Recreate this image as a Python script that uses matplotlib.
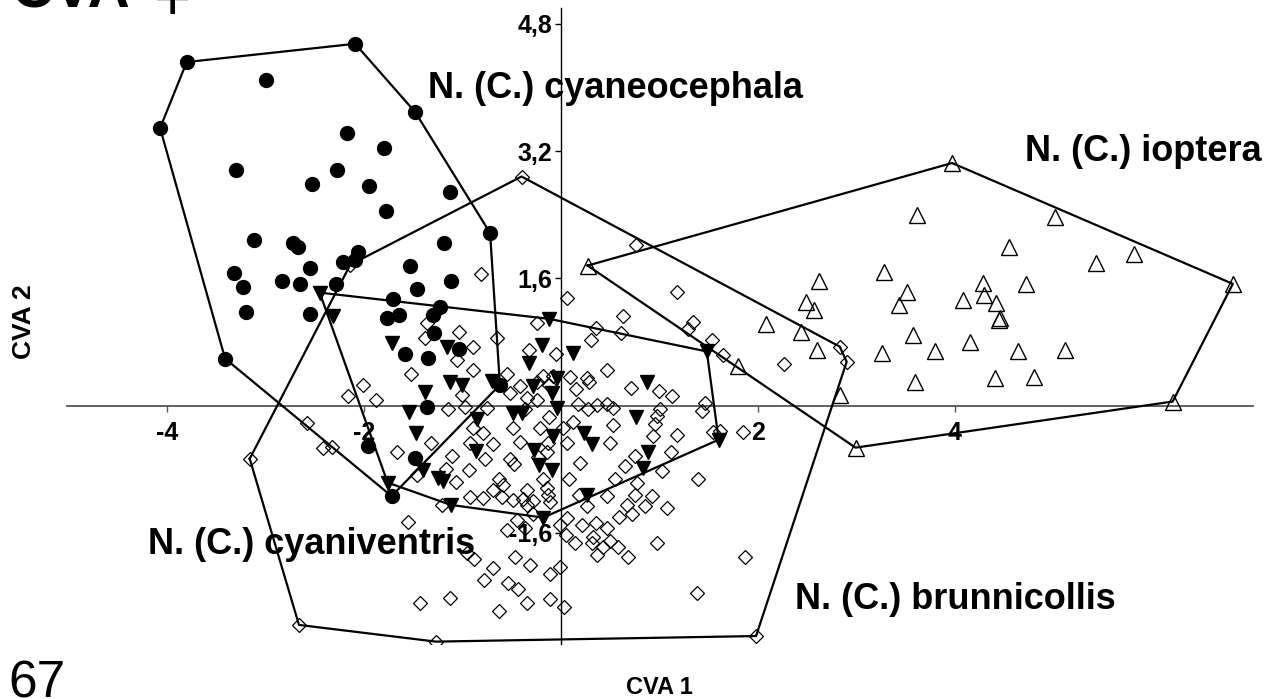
import numpy as np
import matplotlib
matplotlib.use("Agg")
import matplotlib.pyplot as plt

plt.rcParams['font.family'] = ['Liberation Sans', 'DejaVu Sans']

# N. (C.) cyaneocephala - filled circles
cyaneo_x = [-3.80, -2.09, -1.48, -0.72, -0.62, -1.72, -3.41, -4.07,
            -2.99, -2.17, -1.80, -3.30, -2.27, -2.53, -1.95, -1.78,
            -1.13, -1.19, -3.12, -2.72, -2.67, -2.06, -2.21, -2.09,
            -3.32, -3.23, -2.55, -2.83, -2.65, -2.28, -1.53, -1.46,
            -3.20, -2.55, -1.71, -1.77, -1.64, -1.12, -1.23, -1.30,
            -1.29, -1.04, -1.58, -1.35, -1.36, -1.96, -1.48]
cyaneo_y = [4.32, 4.55, 3.69, 2.17, 0.26, -1.14, 0.59, 3.49,
            4.10, 3.43, 3.24, 2.96, 2.96, 2.79, 2.76, 2.45,
            2.69, 2.05, 2.08, 2.05, 2.00, 1.93, 1.81, 1.83,
            1.67, 1.49, 1.73, 1.56, 1.53, 1.53, 1.76, 1.46,
            1.18, 1.15, 1.34, 1.10, 1.14, 1.56, 1.24, 1.14,
            0.91, 0.71, 0.65, 0.60, -0.02, -0.51, -0.66]

# N. (C.) cyaniventris - filled down triangles
cyaniv_x = [-2.45, -2.31, -1.72, -1.16, -1.01, -1.13, -1.38, -0.70,
            -1.54, -1.47, -0.85, -0.86, -1.40, -1.25, -1.20, -1.76,
            -1.12, -0.18, -0.12, -0.19, -0.32, 0.12, -0.04, -0.28,
            -0.09, -0.04, -0.49, -0.40, 0.87, 0.76, 0.23, 0.31,
            -0.08, -0.27, -0.22, -0.09, 0.88, 0.83, 0.26, 1.48,
            1.60]
cyaniv_y = [1.42, 1.12, 0.78, 0.73, 0.26, 0.29, 0.17, 0.31,
            -0.08, -0.34, -0.17, -0.57, -0.81, -0.91, -0.95, -0.97,
            -1.25, -1.41, 1.09, 0.76, 0.54, 0.66, 0.35, 0.24,
            0.16, -0.03, -0.09, -0.09, 0.29, -0.15, -0.34, -0.49,
            -0.38, -0.56, -0.75, -0.81, -0.59, -0.78, -1.12, 0.68,
            -0.43]

# N. (C.) ioptera - open up triangles
iopt_x = [0.27, 3.97, 6.82, 6.21, 2.99, 3.61, 5.01, 4.55,
          5.43, 5.82, 3.28, 4.28, 4.72, 3.51, 4.08, 4.29,
          4.42, 3.43, 4.46, 4.45, 2.62, 2.49, 2.57, 2.08,
          2.44, 2.60, 3.26, 3.57, 3.80, 4.15, 4.64, 5.12,
          4.41, 4.80, 3.59, 2.83, 1.80]
iopt_y = [1.76, 3.05, 1.53, 0.05, -0.53, 2.40, 2.37, 2.00,
          1.79, 1.90, 1.68, 1.54, 1.53, 1.43, 1.33, 1.39,
          1.29, 1.27, 1.10, 1.07, 1.56, 1.30, 1.20, 1.03,
          0.93, 0.70, 0.66, 0.89, 0.68, 0.80, 0.68, 0.70,
          0.35, 0.36, 0.29, 0.13, 0.50]

# N. (C.) brunnicollis - open diamonds
brunn_x = [-0.40, -2.14, -0.81, 0.06, 0.76, 1.18, 0.63, -0.24,
           0.36, 0.61, 0.30, -0.05, -0.32, 1.34, 1.29, 1.53,
           1.64, 2.26, 2.83, 2.90, 0.47, 0.09, 0.26, 0.28,
           0.15, 0.71, 0.99, 1.13, -0.18, -0.08, -0.42, -0.12,
           -0.35, -1.36, -1.04, -1.38, -0.89, -1.06, -0.89, -1.52,
           -0.55, -0.65, -0.24, -2.01, -2.16, -1.88, -0.52, -1.01,
           -0.24, 0.17, 0.27, 0.37, 0.47, 0.53, 1.01, 0.97,
           1.46, 1.43, -1.15, -0.97, -0.75, -0.37, -2.58, -0.12,
           0.12, 0.02, 0.53, 0.95, -2.42, -2.32, -3.16, 0.50,
           0.93, 1.18, 1.12, 1.54, 1.61, 1.85, -0.79, -0.69,
           -0.92, -1.32, -1.66, -1.11, -0.77, -0.89, -0.49, -0.42,
           -0.21, -0.52, -0.48, 0.06, -0.14, -0.23, -0.13, 0.65,
           0.75, 0.55, 0.19, -1.17, -0.93, -1.07, -1.46, -0.92,
           -1.21, -0.79, -0.63, -0.59, -0.69, -0.60, -0.49, -0.39,
           -0.28, -0.35, -0.35, -0.18, -0.14, -0.13, -0.11, 0.08,
           0.18, 0.26, 0.47, 0.77, 0.67, 0.75, 0.92, 0.85,
           0.72, 0.59, 0.47, 0.36, 0.21, 0.06, -0.01, 0.05,
           0.14, 0.31, 0.37, 0.43, 0.50, 0.58, 0.68, 0.97,
           1.08, 1.03, 1.39, 1.87, 1.38, 1.98, -0.01, -0.11,
           -0.11, 0.03, -1.55, -0.95, -0.88, -0.69, -0.78, -0.54,
           -0.44, -0.63, -1.13, -1.43, -0.47, -0.55, -0.31, -0.35,
           -0.28, -0.45, -0.37, 0.32, -2.66, -1.27]
brunn_y = [2.88, 1.77, 1.66, 1.35, 2.02, 1.43, 1.12, 1.04,
           0.98, 0.91, 0.83, 0.65, 0.70, 1.05, 0.96, 0.83,
           0.64, 0.52, 0.74, 0.55, 0.45, 0.36, 0.35, 0.30,
           0.21, 0.22, 0.18, 0.12, 0.37, 0.37, 0.25, 0.26,
           0.10, 1.04, 0.93, 0.85, 0.73, 0.57, 0.45, 0.40,
           0.39, 0.85, 0.29, 0.26, 0.12, 0.07, 0.16, 0.13,
           0.07, 0.02, -0.04, 0.01, 0.02, -0.03, -0.05, -0.13,
           0.03, -0.07, -0.04, -0.02, -0.03, -0.04, -0.22, -0.14,
           -0.21, -0.28, -0.24, -0.23, -0.53, -0.52, -0.67, -0.47,
           -0.38, -0.37, -0.58, -0.33, -0.32, -0.33, -0.34, -0.49,
           -0.47, -0.47, -0.59, -0.63, -0.67, -0.28, -0.28, -0.46,
           -0.28, -0.67, -0.73, -0.47, -0.59, -0.65, -0.47, -0.76,
           -0.63, -0.92, -0.72, -0.80, -0.81, -0.96, -0.87, -1.15,
           -1.25, -1.16, -0.93, -1.00, -1.06, -1.15, -1.19, -1.17,
           -1.20, -1.06, -1.25, -0.93, -1.04, -1.12, -1.22, -0.93,
           -1.12, -1.27, -1.14, -0.97, -1.25, -1.12, -1.14, -1.27,
           -1.37, -1.40, -1.54, -1.48, -1.50, -1.41, -1.50, -1.63,
           -1.73, -1.73, -1.88, -1.78, -1.70, -1.78, -1.90, -1.73,
           -1.29, -0.82, -0.92, -1.90, -2.36, -2.90, -2.03, -2.12,
           -2.44, -2.54, -1.46, -1.85, -1.93, -2.05, -2.19, -2.23,
           -2.31, -2.59, -2.42, -2.48, -1.90, -1.56, -2.00, -2.49,
           -1.37, -1.44, -1.54, -1.65, -2.76, -2.97]

xticks = [-4, -2, 2, 4]
xtick_labels = ["-4", "-2", "2", "4"]
yticks = [-1.6, 1.6, 3.2, 4.8]
ytick_labels = ["-1,6", "1,6", "3,2", "4,8"]


def convex_hull(xs, ys):
    pts = sorted(set(zip(xs, ys)))

    def cross(o, a, b):
        return (a[0] - o[0]) * (b[1] - o[1]) - (a[1] - o[1]) * (b[0] - o[0])

    lower = []
    for p in pts:
        while len(lower) >= 2 and cross(lower[-2], lower[-1], p) <= 0:
            lower.pop()
        lower.append(p)
    upper = []
    for p in reversed(pts):
        while len(upper) >= 2 and cross(upper[-2], upper[-1], p) <= 0:
            upper.pop()
        upper.append(p)
    h = lower[:-1] + upper[:-1]
    h.append(h[0])
    return [p[0] for p in h], [p[1] for p in h]


fig = plt.figure(figsize=(12.69, 6.99), dpi=100)
ax = fig.add_axes([67 / 1269, 55 / 699, 1186 / 1269, 636 / 699])
ax.set_xlim(-5.015, 7.025)
ax.set_ylim(-3.0, 5.0)

ax.spines['left'].set_position(('data', 0))
ax.spines['bottom'].set_position(('data', 0))
ax.spines['top'].set_visible(False)
ax.spines['right'].set_visible(False)
ax.spines['bottom'].set_color('#555555')
ax.spines['bottom'].set_linewidth(1.3)
ax.spines['left'].set_color('black')
ax.spines['left'].set_linewidth(1.0)

# hulls
for xs, ys in [(cyaneo_x, cyaneo_y), (cyaniv_x, cyaniv_y),
               (iopt_x, iopt_y), (brunn_x, brunn_y)]:
    hx, hy = convex_hull(xs, ys)
    ax.plot(hx, hy, color='black', lw=1.6, zorder=3)

ax.plot(brunn_x, brunn_y, ls='none', marker='D', ms=7.5, mfc='none',
        mec='black', mew=0.9, zorder=4)
ax.plot(iopt_x, iopt_y, ls='none', marker='^', ms=12, mfc='none',
        mec='black', mew=1.0, zorder=4)
ax.plot(cyaniv_x, cyaniv_y, ls='none', marker='v', ms=10.5, mfc='black',
        mec='black', zorder=5)
ax.plot(cyaneo_x, cyaneo_y, ls='none', marker='o', ms=10, mfc='black',
        mec='black', zorder=5)

ax.set_xticks(xticks)
ax.set_xticklabels(xtick_labels, fontsize=18, fontweight='bold')
ax.set_yticks(yticks)
ax.set_yticklabels(ytick_labels, fontsize=18, fontweight='bold')
ax.tick_params(axis='x', direction='out', length=4, width=1, pad=7,
               color='#555555')
ax.tick_params(axis='y', direction='out', length=4, width=1, pad=2)

lab = dict(fontsize=26, fontweight='bold', va='baseline', ha='left')
ax.text(-1.35, 3.87, "N. (C.) cyaneocephala", **lab)
ax.text(4.71, 3.07, "N. (C.) ioptera", **lab)
ax.text(-4.19, -1.87, "N. (C.) cyaniventris", **lab)
ax.text(2.38, -2.56, "N. (C.) brunnicollis", **lab)

fig.text(659 / 1269, 1 - 694 / 699, "CVA 1", fontsize=17,
         fontweight='bold', ha='center', va='baseline')
fig.text(24 / 1269, 1 - 322 / 699, "CVA 2", fontsize=19,
         fontweight='bold', ha='center', va='center', rotation=90)
# caption fragments cut by the page edge, as in the source
fig.text(12 / 1269, 1 - 8 / 699, "CVA", fontsize=42, fontweight='bold',
         ha='left', va='baseline')
fig.text(154 / 1269, 1 - 20 / 699, "+", fontsize=46, ha='left',
         va='baseline')
fig.text(8 / 1269, 1 - 697 / 699, "67", fontsize=37, ha='left',
         va='baseline')

fig.savefig("out.png", dpi=100)
